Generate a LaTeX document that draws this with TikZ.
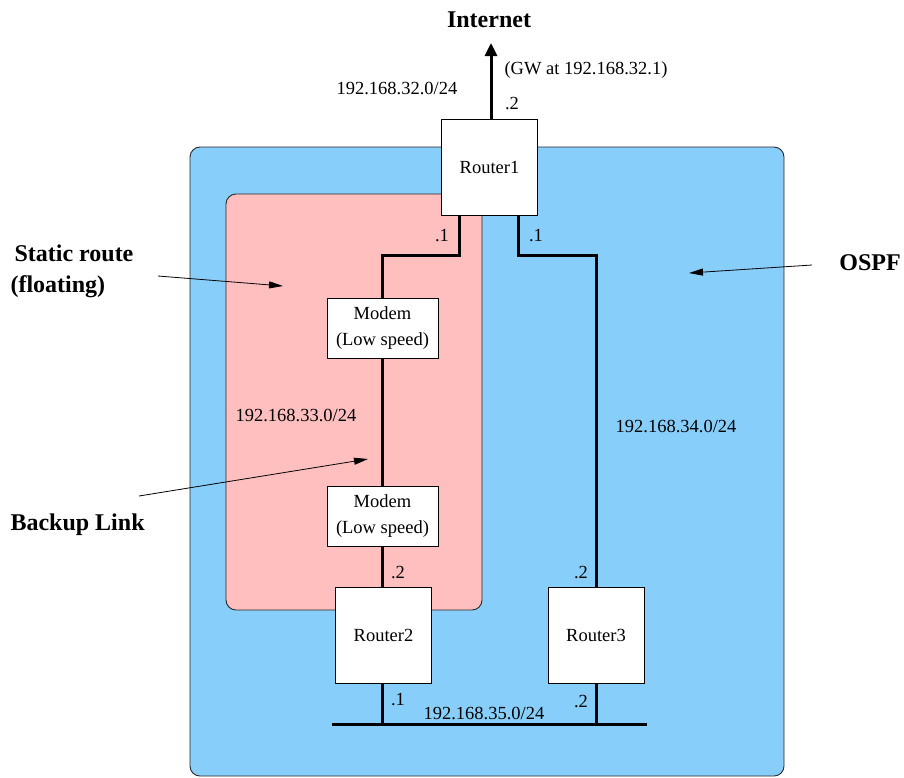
\documentclass[tikz,border=0pt]{standalone}
\usepackage{fontspec}
\setmainfont{Liberation Serif}
\usetikzlibrary{arrows.meta}
\definecolor{ospfblue}{RGB}{135,206,250}
\definecolor{staticpink}{RGB}{255,191,191}
\definecolor{arealine}{RGB}{40,40,40}

\begin{document}
\begin{tikzpicture}[x=1pt,y=-1pt,
  every node/.style={font=\fontsize{18.5}{26}\selectfont},
  area/.style={draw=arealine,line width=0.9pt,rounded corners=10pt},
  router/.style={draw,fill=white,line width=0.9pt,minimum width=96pt,minimum height=96pt,inner sep=0pt},
  modem/.style={draw,fill=white,line width=0.9pt,minimum width=111pt,minimum height=60pt,inner sep=0pt,align=center},
  link/.style={line width=3pt},
  note/.style={line width=0.8pt,-{Triangle[length=14pt,width=7pt]}},
  title/.style={font=\fontsize{24}{31}\selectfont\bfseries}]
% 904 x 777 canvas
\useasboundingbox (0,0) rectangle (904,777);
\path[area,fill=ospfblue] (190,147) rectangle (784,776);
\path[area,fill=staticpink] (226,194) rectangle (482,610);

\node[router] (r1) at (489.5,167.5) {Router1};
\node[modem] (m1) at (382.5,328) {Modem\\(Low speed)};
\node[modem] (m2) at (382.5,516) {Modem\\(Low speed)};
\node[router] (r2) at (383.5,635) {Router2};
\node[router] (r3) at (596,635) {Router3};

\coordinate (gw) at (491,43);
\coordinate (busL) at (332,724);
\coordinate (busR) at (647,724);

% links
\draw[link,-{Triangle[length=13pt,width=12pt]}] (r1.north -| gw) -- (gw);
\draw[link] ([xshift=-30.5pt]r1.south) -- ++(0,40) -| (m1.north);
\draw[link] ([xshift=28.5pt]r1.south) -- ++(0,40) -| (r3.north);
\draw[link] (m1.south) -- (m2.north);
\draw[link] (m2.south) -- (m2.south |- r2.north);
\draw[link] (busL) -- (busR);
\draw[link] (m2.south |- r2.south) -- (m2.south |- busL);
\draw[link] (r3.south) -- (r3.south |- busL);

% addresses
\node (inet) at (489,20) [title] {Internet};
\node (gwtxt) at (586,70) {(GW at 192.168.32.1)};
\node (net32) at (397,88) {192.168.32.0/24};
\node (a12) at (512,104) {.2};
\node (a11) at (442,236) {.1};
\node (a31) at (536,236) {.1};
\node (net33) at (296,415) {192.168.33.0/24};
\node (net34) at (676,426) {192.168.34.0/24};
\node (a22) at (398,572) {.2};
\node (a32) at (581,572) {.2};
\node (a21) at (398,700) {.1};
\node (a33) at (581,701) {.2};
\node (net35) at (484,713) {192.168.35.0/24};

% annotations
\node[title,align=left,anchor=west] (static) at (7,271) {\hspace{4pt}Static route\\(floating)};
\node[title,anchor=west] (backup) at (7,525) {Backup Link};
\node[title] (ospf) at (870,263) {OSPF};
\coordinate (staticfrom) at (158,276);
\coordinate (backupfrom) at (139,496);
\coordinate (ospffrom) at (812,265);
\coordinate (pinkpt) at (283,286);
\coordinate (linkpt) at (368,459);
\coordinate (bluept) at (689,273);
\draw[note] (staticfrom) -- (pinkpt);
\draw[note] (backupfrom) -- (linkpt);
\draw[note] (ospffrom) -- (bluept);
\end{tikzpicture}
\end{document}
